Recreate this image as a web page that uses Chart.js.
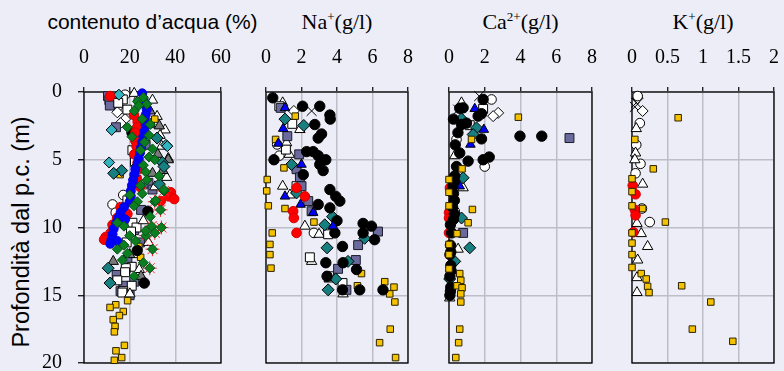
<!DOCTYPE html>
<html>
<head>
<meta charset="utf-8">
<title>Profili</title>
<script src="https://cdn.jsdelivr.net/npm/chart.js@4.4.1/dist/chart.umd.min.js"></script>
<style>
  body { margin:0; background:#EDEDF7; width:784px; height:371px; overflow:hidden; position:relative; }
  canvas { position:absolute; }
  .titolo { position:absolute; white-space:nowrap; transform:translateX(-50%); color:#000; }
  .sans { font-family:"Liberation Sans", Arial, sans-serif; font-size:21px; line-height:21px; }
  .serif { font-family:"Liberation Serif", "Times New Roman", serif; font-size:22px; line-height:22px; }
  .serif sup { font-size:13px; vertical-align:8px; line-height:0; }
  #asseY { position:absolute; left:22px; top:232px; white-space:nowrap;
           font-family:"Liberation Sans", Arial, sans-serif; font-size:23.5px; line-height:23.5px;
           transform:translate(-50%,-50%) rotate(-90deg); }
</style>
</head>
<body>

<div class="titolo sans" style="left:152.5px; top:10.5px">contenuto d’acqua (%)</div>
<div class="titolo serif" style="left:337px; top:11px">Na<sup>+</sup>(g/l)</div>
<div class="titolo serif" style="left:520.5px; top:11px">Ca<sup>2+</sup>(g/l)</div>
<div class="titolo serif" style="left:703px; top:11px">K<sup>+</sup>(g/l)</div>
<div id="asseY">Profondità dal p.c. (m)</div>

<canvas id="c1"></canvas>
<canvas id="c2"></canvas>
<canvas id="c3"></canvas>
<canvas id="c4"></canvas>

<script>
// dati: [valore, profondità (m)]
const profonditaTicks = [0, 5, 10, 15, 20];

// contenuto d'acqua (%)
const acquaBlu = [[25.5,0.1],[26,0.5],[27,0.9],[27.5,1.3],[27,1.7],[26.5,2.1],[27,2.5],[26.5,2.9],[26,3.3],[25.5,3.7],[25,4.1],[24.5,4.5],[24,4.9],[23.5,5.3],[22.5,5.7],[22,6.1],[21.5,6.5],[21,6.9],[20.5,7.3],[20.5,7.7],[20,8.1],[17.5,8.5],[16,8.9],[15,9.3],[18,9.4],[14,9.7],[13,10.1],[12.5,10.5],[12,10.9],[14.6,11],[11.5,11.2]];
const acquaRosso = [[11.4,0.3],[21.9,1.7],[23.5,2.2],[23.3,2.6],[22.5,3.0],[22.5,3.6],[23,4.0],[22,4.6],[23.5,5.2],[24,5.7],[23,6.4],[24.5,7.0],[38,7.4],[37,7.7],[39.5,7.9],[33.6,8.05],[16,8.5],[19,9.0],[14.5,9.3],[12.5,9.8],[11.7,10.4],[9.5,10.7],[8.8,10.9]];
const acquaVerde = [[26,0.4],[23.4,0.7],[27.5,0.9],[24,1.0],[22,1.4],[25.5,2.0],[29,2.4],[19,2.6],[28.5,3.2],[21,3.3],[26.5,3.7],[30,4.2],[24.8,4.3],[28.5,4.8],[31,5.0],[26,5.4],[27,5.9],[32.9,6.2],[27.5,6.5],[24.8,6.9],[35,7.2],[25.5,7.5],[20,7.6],[31.4,8.0],[23.4,8.1],[21.9,8.4],[29,9.2],[14.6,9.65],[17.5,9.9],[27,10.25],[20,10.6],[22.6,11.0],[17.5,11.3],[14.6,11.6],[19,11.9],[16.8,12.4],[26,12.6],[22,13.6]];
const acquaStella = [[35,7.3],[31,8.1],[33.5,8.7],[29.6,9.9],[33.9,10.0],[31,10.4],[27.1,10.6],[30,11.6],[28.8,13.0]];
const acquaNero = [[21,3.0],[28,8.8],[23.3,11.7],[26.4,14.1]];
const acquaArdesia = [[10.5,0.3],[12.5,0.5],[11.1,0.6],[26,0.8],[11.3,1.0],[28.9,2.3],[14,2.6],[27,3.9],[28.2,6.7],[30,7.2],[37.7,7.6],[25,8.7],[22,10.2],[24.5,11.1],[19,12.4],[14.3,13.5],[22,14.0],[17.2,14.3],[16,14.7],[20,15.0]];
const acquaQuadBianco = [[17,0.55],[15,0.8],[19,1.3],[24,3.6],[21.2,4.3],[22.3,5.1],[23,6.5],[19,8.0],[21.2,9.65],[23,10.0],[20.6,10.3],[18.7,11.1],[20.9,12.9],[18.3,13.0],[18,13.3],[14.6,13.9],[20.9,14.3],[17.2,14.7],[16.8,14.8]];
const acquaRombBianco = [[13.5,0.9],[15,1.1],[14.6,1.5],[18,2.0],[16,2.3]];
const acquaTriBianco = [[22,0.1],[25,0.3],[30,0.6],[28.2,1.2],[32,1.8],[35.5,2.8],[33.3,3.2],[34,4.0],[36.9,4.9],[36.2,6.3],[31,7.0],[26,9.5],[28.2,11.1],[23,12.0],[24.2,13.1],[20.1,14.9]];
const acquaTriGrigio = [[28.9,1.4],[27,2.2],[33,2.5],[32.3,4.6],[36.9,5.0],[34.5,5.8],[30,6.0],[20,12.0],[12.8,12.5],[25,13.6]];
const acquaOttanio = [[32,3.4],[34.3,5.2],[35,5.5],[23,5.5],[16.5,5.8],[13,6.0],[33,6.8],[10.6,13.0],[11.4,14.1]];
const acquaCiano = [[15.3,0.2],[12.1,2.8],[35.9,3.9],[36.5,4.0],[11,5.2]];
const acquaCerchioBianco = [[18,0.2],[24,0.6],[27,6.8],[17.2,7.6],[12.5,8.3],[13.9,8.9]];
const acquaGiallo = [[31,2.0],[15.8,6.1],[24,11.4],[24.8,12.2],[19.1,15.4],[13.9,15.7],[11.4,15.9],[17.2,16.2],[15.5,16.5],[12.8,16.8],[13.6,17.3],[13.3,17.7],[17.7,18.7],[14,19.1],[16.5,19.6],[13.3,19.8]];

// Na+ (g/l)
const naNero = [[0.38,0.43],[2.06,1.05],[3.03,1.05],[3.6,1.7],[3.62,2.0],[2.75,2.4],[3.13,3.1],[2.94,3.4],[2.29,4.4],[2.66,4.4],[2.94,4.7],[3.37,5.0],[0.45,5.0],[3.03,5.35],[3.22,5.8],[2.1,6.1],[3.6,7.2],[3.93,7.7],[4.16,8.05],[2.94,8.3],[3.6,8.55],[4.0,9.5],[5.47,9.7],[5.94,9.9],[3.88,10.4],[5.47,10.4],[6.12,10.9],[4.31,11.4],[3.37,12.6],[4.34,12.6],[5.1,13.1],[3.44,13.6],[4.31,14.6],[5.28,14.6],[6.59,14.6]];
const naArdesia = [[0.83,1.17],[1.2,3.26],[1.87,4.6],[1.72,5.7],[1.91,6.3],[2.0,6.95],[2.38,8.05],[2.57,8.8],[6.31,10.3],[5.19,11.3],[5.06,12.4],[4.06,13.05],[4.53,14.6]];
const naOttanio = [[1.07,2.0],[2.13,2.47],[1.44,5.35],[1.72,7.45],[3.75,9.2],[3.31,9.8],[5.56,10.8],[3.44,11.5],[4.62,12.5],[3.93,13.8],[3.5,14.6]];
const naQuadBianco = [[0.75,1.05],[1.48,2.35],[1.12,4.25],[1.72,6.95],[3.5,10.5],[2.47,12.2],[3.56,13.6],[4.31,14.1]];
const naTriBianco = [[0.94,0.8],[1.91,2.77],[1.16,3.75],[1.31,4.6],[0.94,6.95],[1.35,7.6],[2.19,9.9],[2.99,10.5],[2.57,12.5],[3.56,13.8],[4.34,14.9]];
const naCerchioBianco = [[0.63,3.87],[0.75,4.7],[2.7,10.4]];
const naTriBlu = [[1.07,1.17],[0.97,2.7],[0.69,3.8],[2.0,5.35],[1.07,7.7],[1.95,8.3],[2.66,8.9],[3.78,9.9]];
const naRosso = [[1.72,7.07],[2.19,7.7],[1.53,8.8],[1.57,9.3],[1.72,10.4]];
const naGiallo = [[1.65,1.78],[0.54,3.5],[1.01,5.6],[0.07,6.46],[0.04,7.3],[0.13,8.4],[1.07,8.6],[2.7,9.6],[0.35,10.4],[0.22,11.25],[0.22,12.0],[0.28,13.0],[5.38,13.4],[6.69,14.0],[5.15,14.3],[7.21,14.4],[6.97,14.9],[7.26,15.5],[7.0,17.5],[6.4,18.5],[7.3,19.6]];
const naCroce = [[2.57,1.4]];
const naRombBianco = [[1.57,1.4]];

// Ca2+ (g/l)
const caNero = [[1.91,0.55],[0.79,1.17],[0.6,1.2],[1.82,1.6],[1.63,1.78],[0.25,2.0],[0.98,2.3],[0.7,2.4],[0.5,3.0],[3.97,3.26],[5.19,3.26],[1.82,3.46],[0.35,3.9],[0.6,4.5],[2.25,4.8],[1.91,5.0],[1.07,5.1],[0.42,5.5],[0.32,6.2],[0.3,6.6],[0.22,6.95],[0.25,7.5],[0.3,8.0],[0.2,8.5],[0.3,9.0],[0.25,9.4],[0.08,9.8],[0.15,10.4],[0.08,11.3],[0.1,11.8],[0.05,12.0],[0.1,12.8],[0.12,13.2],[0.05,13.6],[0.1,14.4],[0.08,14.7],[0.05,15.0]];
const caArdesia = [[6.74,3.4],[0.32,6.46],[0.79,10.4]];
const caCerchioBianco = [[2.38,0.55],[0.42,3.5],[2.0,5.5],[0.32,8.8]];
const caQuadBianco = [[1.91,1.24],[1.16,2.45]];
const caRombBianco = [[2.75,1.54],[2.47,1.78]];
const caCroce = [[1.69,0.3],[0.51,1.3],[0.7,1.6]];
const caTriBlu = [[1.44,1.24],[1.95,2.77],[1.2,3.87],[0.6,6.95]];
const caTriBianco = [[0.7,0.8],[0.32,4.7],[0.79,7.07],[0.51,11.6],[0.04,15.2]];
const caOttanio = [[0.7,1.98],[1.54,2.65],[1.35,3.14],[0.79,6.33],[0.7,9.3],[1.16,11.5],[0.32,12.5],[0.04,13.8]];
const caRosso = [[0.05,7.07],[0.0,8.9],[0.0,9.3],[0.0,10.4]];
const caGiallo = [[3.88,1.86],[1.26,3.5],[0.73,5.67],[0,6.46],[0,7.4],[0,8.4],[1.31,8.67],[1.07,9.65],[0.45,10.45],[0,11.25],[0,12.0],[0,13.05],[0.6,13.4],[0.66,13.9],[0.45,14.3],[0.73,14.45],[0.66,14.9],[0.66,15.5],[0.6,17.5],[0.54,18.5],[0.38,19.6]];

// K+ (g/l)
const kGiallo = [[0.65,1.9],[0.04,3.5],[0.3,5.67],[0,6.4],[0,7.35],[0,8.4],[0.15,8.6],[0.47,9.6],[0,10.4],[0,11.15],[0,12.0],[0,12.95],[0.13,13.4],[0.2,13.8],[0.7,14.3],[0.22,14.35],[0.24,14.8],[1.11,15.5],[0.85,17.5],[1.42,18.4]];
const kCerchioBianco = [[0.08,0.3],[0.11,2.3],[0.06,3.9],[0.12,5.3],[0.05,6.0],[0.14,8.6],[0.25,9.6]];
const kTriBianco = [[0.06,2.7],[0.05,4.5],[0.04,5.0],[0.15,6.8],[0.07,9.7],[0.13,10.45],[0.22,11.4],[0.08,12.4],[0.07,13.7],[0.07,14.8]];
const kRombBianco = [[0.08,0.45],[0.15,1.4]];
const kCroce = [[0.06,0.8],[0.04,1.1]];
const kRosso = [[0.01,6.9],[0.05,7.55],[0.04,8.7],[0.05,9.1],[0.02,10.35]];

// stili dei marcatori
const stili = {
  verde:         { pointStyle: 'rectRot',  radius: 5,   bg: '#0B7F1F', bd: '#04501A' },
  stella:        { pointStyle: 'star',     radius: 7,   bg: 'rgba(0,0,0,0)', bd: '#FF2A2A' },
  blu:           { pointStyle: 'circle',   radius: 4.5, bg: '#0000FF', bd: '#0000D0' },
  rosso:         { pointStyle: 'circle',   radius: 4.8, bg: '#FF0000', bd: '#D00000' },
  nero:          { pointStyle: 'circle',   radius: 5.2, bg: '#000000', bd: '#000000' },
  ardesia:       { pointStyle: 'rect',     radius: 6.3, bg: '#6A6A9C', bd: '#1A1A2A' },
  quadBianco:    { pointStyle: 'rect',     radius: 6.3, bg: '#FFFFFF', bd: '#000000' },
  rombBianco:    { pointStyle: 'rectRot',  radius: 5.5, bg: '#FFFFFF', bd: '#000000' },
  triBianco:     { pointStyle: 'triangle', radius: 6,   bg: '#FFFFFF', bd: '#000000' },
  triGrigio:     { pointStyle: 'triangle', radius: 6,   bg: '#7A7A7A', bd: '#000000' },
  triBlu:        { pointStyle: 'triangle', radius: 5.5, bg: '#0000FF', bd: '#000000' },
  ottanio:       { pointStyle: 'rectRot',  radius: 6,   bg: '#177F80', bd: '#000000' },
  ciano:         { pointStyle: 'rectRot',  radius: 5.5, bg: '#33B3C0', bd: '#000000' },
  cerchioBianco: { pointStyle: 'circle',   radius: 4.8, bg: '#FFFFFF', bd: '#000000' },
  giallo:        { pointStyle: 'rect',     radius: 4.6, bg: '#F5C200', bd: '#2A2200' },
  croce:         { pointStyle: 'crossRot', radius: 7,   bg: 'rgba(0,0,0,0)', bd: '#000000' }
};

// il primo della lista viene disegnato sopra
const pannelli = [
  { id: 'c1', left: 84, right: 221, max: 60, step: 20, etichetteY: true, serie: [
    ['verde', acquaVerde], ['verde', acquaStella], ['stella', acquaStella], ['blu', acquaBlu], ['rosso', acquaRosso],
    ['nero', acquaNero], ['ottanio', acquaOttanio], ['ciano', acquaCiano], ['giallo', acquaGiallo],
    ['triGrigio', acquaTriGrigio], ['triBianco', acquaTriBianco], ['quadBianco', acquaQuadBianco],
    ['ardesia', acquaArdesia], ['rombBianco', acquaRombBianco], ['cerchioBianco', acquaCerchioBianco]] },
  { id: 'c2', left: 266, right: 408, max: 8, step: 2, etichetteY: false, serie: [
    ['rosso', naRosso], ['triBlu', naTriBlu], ['nero', naNero], ['giallo', naGiallo], ['ottanio', naOttanio],
    ['ardesia', naArdesia], ['quadBianco', naQuadBianco], ['triBianco', naTriBianco],
    ['cerchioBianco', naCerchioBianco], ['rombBianco', naRombBianco], ['croce', naCroce]] },
  { id: 'c3', left: 449, right: 592, max: 8, step: 2, etichetteY: false, serie: [
    ['giallo', caGiallo], ['nero', caNero], ['rosso', caRosso], ['triBlu', caTriBlu], ['ottanio', caOttanio],
    ['ardesia', caArdesia], ['quadBianco', caQuadBianco], ['triBianco', caTriBianco],
    ['cerchioBianco', caCerchioBianco], ['rombBianco', caRombBianco], ['croce', caCroce]] },
  { id: 'c4', left: 632, right: 774, max: 2, step: 0.5, etichetteY: false, serie: [
    ['giallo', kGiallo], ['rosso', kRosso], ['triBianco', kTriBianco], ['cerchioBianco', kCerchioBianco],
    ['rombBianco', kRombBianco], ['croce', kCroce]] }
];

const MARGINE_SX = 70, MARGINE_DX = 10, TOP = 30, ALTEZZA = 341, ASSE_X = 62, MARGINE_BASSO = 8;

Chart.defaults.font.family = "'Liberation Serif', 'Times New Roman', serif";

const cornice = {
  id: 'cornice',
  beforeDatasetsDraw(chart) {
    const { ctx, chartArea: a } = chart;
    ctx.save();
    ctx.strokeStyle = '#000';
    ctx.lineWidth = 1.3;
    ctx.strokeRect(a.left, a.top, a.right - a.left, a.bottom - a.top);
    ctx.restore();
  }
};

const fontTick = { family: "'Liberation Serif', 'Times New Roman', serif", size: 20 };
const etichetta = function (v) { return String(v); };

pannelli.forEach(function (p) {
  const canvas = document.getElementById(p.id);
  canvas.width = MARGINE_SX + (p.right - p.left) + MARGINE_DX;
  canvas.height = ALTEZZA;
  canvas.style.left = (p.left - MARGINE_SX) + 'px';
  canvas.style.top = TOP + 'px';

  const datasets = p.serie.map(function (s) {
    const st = stili[s[0]];
    return {
      data: s[1].map(function (v) { return { x: v[0], y: v[1] }; }),
      pointStyle: st.pointStyle,
      pointRadius: st.radius,
      pointBackgroundColor: st.bg,
      pointBorderColor: st.bd,
      pointBorderWidth: 1,
      showLine: false,
      clip: false
    };
  });

  new Chart(canvas, {
    type: 'scatter',
    data: { datasets: datasets },
    options: {
      responsive: false,
      animation: false,
      events: [],
      layout: { padding: { left: 0, right: MARGINE_DX, top: 0, bottom: MARGINE_BASSO } },
      plugins: { legend: { display: false }, tooltip: { enabled: false } },
      scales: {
        x: {
          type: 'linear', position: 'top', min: 0, max: p.max,
          ticks: { stepSize: p.step, autoSkip: false, maxRotation: 0, padding: 17, color: '#000', font: fontTick, callback: etichetta },
          grid: { color: '#BEBEC9', lineWidth: 1.5, tickColor: '#000', tickLength: 5, tickWidth: 1.2 },
          border: { display: false },
          afterFit: function (s) { s.height = ASSE_X; s.paddingLeft = 0; s.paddingRight = 0; }
        },
        y: {
          type: 'linear', reverse: true, min: 0, max: 20,
          afterBuildTicks: function (s) { s.ticks = profonditaTicks.map(function (v) { return { value: v }; }); },
          ticks: { display: p.etichetteY, padding: 16, color: '#000', font: fontTick, callback: etichetta },
          grid: { color: '#BEBEC9', lineWidth: 1.5, tickColor: '#000', drawTicks: p.etichetteY, tickLength: 6, tickWidth: 1.2 },
          border: { display: false },
          afterFit: function (s) { s.width = MARGINE_SX; s.paddingTop = 0; s.paddingBottom = 0; }
        }
      }
    },
    plugins: [cornice]
  });
});
</script>
</body>
</html>
